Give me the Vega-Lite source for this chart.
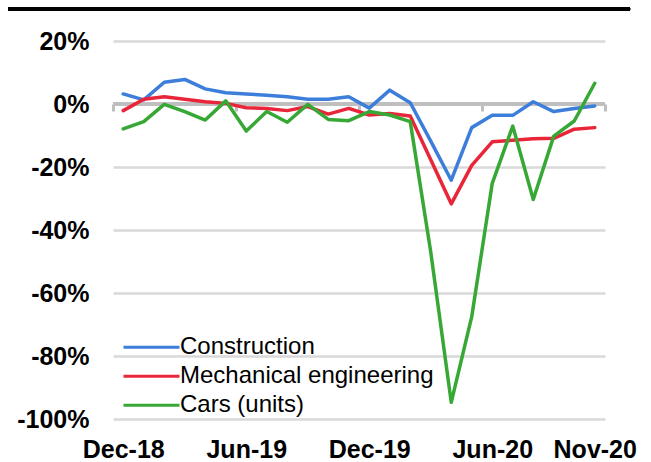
{
  "$schema": "https://vega.github.io/schema/vega-lite/v6.json",
  "autosize": "none",
  "width": 492,
  "height": 378,
  "padding": {"left": 113, "top": 41, "right": 46, "bottom": 43},
  "background": "white",
  "config": {
    "font": "Liberation Sans",
    "view": {"stroke": null}
  },
  "data": {
    "values": [
      {"month": "Dec-18", "series": "Construction", "value": 3.2},
      {"month": "Jan-19", "series": "Construction", "value": 1.3},
      {"month": "Feb-19", "series": "Construction", "value": 6.9},
      {"month": "Mar-19", "series": "Construction", "value": 7.8},
      {"month": "Apr-19", "series": "Construction", "value": 4.8},
      {"month": "May-19", "series": "Construction", "value": 3.6},
      {"month": "Jun-19", "series": "Construction", "value": 3.2},
      {"month": "Jul-19", "series": "Construction", "value": 2.8},
      {"month": "Aug-19", "series": "Construction", "value": 2.3},
      {"month": "Sep-19", "series": "Construction", "value": 1.5},
      {"month": "Oct-19", "series": "Construction", "value": 1.5},
      {"month": "Nov-19", "series": "Construction", "value": 2.3},
      {"month": "Dec-19", "series": "Construction", "value": -1.3},
      {"month": "Jan-20", "series": "Construction", "value": 4.4},
      {"month": "Feb-20", "series": "Construction", "value": 0.4},
      {"month": "Mar-20", "series": "Construction", "value": -11.8},
      {"month": "Apr-20", "series": "Construction", "value": -24.2},
      {"month": "May-20", "series": "Construction", "value": -7.5},
      {"month": "Jun-20", "series": "Construction", "value": -3.6},
      {"month": "Jul-20", "series": "Construction", "value": -3.6},
      {"month": "Aug-20", "series": "Construction", "value": 0.7},
      {"month": "Sep-20", "series": "Construction", "value": -2.4},
      {"month": "Oct-20", "series": "Construction", "value": -1.4},
      {"month": "Nov-20", "series": "Construction", "value": -0.6},
      {"month": "Dec-18", "series": "Mechanical engineering", "value": -2.1},
      {"month": "Jan-19", "series": "Mechanical engineering", "value": 1.5},
      {"month": "Feb-19", "series": "Mechanical engineering", "value": 2.3},
      {"month": "Mar-19", "series": "Mechanical engineering", "value": 1.5},
      {"month": "Apr-19", "series": "Mechanical engineering", "value": 0.7},
      {"month": "May-19", "series": "Mechanical engineering", "value": 0.2},
      {"month": "Jun-19", "series": "Mechanical engineering", "value": -1.2},
      {"month": "Jul-19", "series": "Mechanical engineering", "value": -1.4},
      {"month": "Aug-19", "series": "Mechanical engineering", "value": -2.1},
      {"month": "Sep-19", "series": "Mechanical engineering", "value": -0.8},
      {"month": "Oct-19", "series": "Mechanical engineering", "value": -3.2},
      {"month": "Nov-19", "series": "Mechanical engineering", "value": -1.4},
      {"month": "Dec-19", "series": "Mechanical engineering", "value": -3.5},
      {"month": "Jan-20", "series": "Mechanical engineering", "value": -3.0},
      {"month": "Feb-20", "series": "Mechanical engineering", "value": -3.8},
      {"month": "Mar-20", "series": "Mechanical engineering", "value": -17.7},
      {"month": "Apr-20", "series": "Mechanical engineering", "value": -31.7},
      {"month": "May-20", "series": "Mechanical engineering", "value": -19.5},
      {"month": "Jun-20", "series": "Mechanical engineering", "value": -12.0},
      {"month": "Jul-20", "series": "Mechanical engineering", "value": -11.5},
      {"month": "Aug-20", "series": "Mechanical engineering", "value": -11.0},
      {"month": "Sep-20", "series": "Mechanical engineering", "value": -10.9},
      {"month": "Oct-20", "series": "Mechanical engineering", "value": -8.0},
      {"month": "Nov-20", "series": "Mechanical engineering", "value": -7.5},
      {"month": "Dec-18", "series": "Cars (units)", "value": -7.9},
      {"month": "Jan-19", "series": "Cars (units)", "value": -5.6},
      {"month": "Feb-19", "series": "Cars (units)", "value": -0.1},
      {"month": "Mar-19", "series": "Cars (units)", "value": -2.4},
      {"month": "Apr-19", "series": "Cars (units)", "value": -5.1},
      {"month": "May-19", "series": "Cars (units)", "value": 1.0},
      {"month": "Jun-19", "series": "Cars (units)", "value": -8.6},
      {"month": "Jul-19", "series": "Cars (units)", "value": -2.4},
      {"month": "Aug-19", "series": "Cars (units)", "value": -5.8},
      {"month": "Sep-19", "series": "Cars (units)", "value": -0.1},
      {"month": "Oct-19", "series": "Cars (units)", "value": -4.9},
      {"month": "Nov-19", "series": "Cars (units)", "value": -5.3},
      {"month": "Dec-19", "series": "Cars (units)", "value": -2.4},
      {"month": "Jan-20", "series": "Cars (units)", "value": -3.5},
      {"month": "Feb-20", "series": "Cars (units)", "value": -5.6},
      {"month": "Mar-20", "series": "Cars (units)", "value": -47.0},
      {"month": "Apr-20", "series": "Cars (units)", "value": -94.7},
      {"month": "May-20", "series": "Cars (units)", "value": -67.5},
      {"month": "Jun-20", "series": "Cars (units)", "value": -25.2},
      {"month": "Jul-20", "series": "Cars (units)", "value": -7.0},
      {"month": "Aug-20", "series": "Cars (units)", "value": -30.3},
      {"month": "Sep-20", "series": "Cars (units)", "value": -10.2},
      {"month": "Oct-20", "series": "Cars (units)", "value": -5.4},
      {"month": "Nov-20", "series": "Cars (units)", "value": 6.6}
    ]
  },
  "resolve": {"scale": {"x": "independent"}, "axis": {"x": "independent"}},
  "layer": [
    {
      "mark": {"type": "rule", "color": "#bfbfbf", "strokeWidth": 3},
      "encoding": {
        "x": {"datum": 0, "type": "quantitative",
          "scale": {"domain": [0, 24], "nice": false, "zero": false},
          "axis": {"orient": "top", "offset": -63, "values": [0, 6, 12, 18, 24], "labels": false, "domain": false, "grid": false, "ticks": true, "tickColor": "#bfbfbf", "tickWidth": 3, "tickSize": -7, "title": null}},
        "x2": {"datum": 24},
        "y": {"datum": 0, "type": "quantitative"}
      }
    },
    {
      "mark": {"type": "rule", "color": "black", "strokeWidth": 3},
      "encoding": {
        "x": {"datum": -5.12, "type": "quantitative",
          "scale": {"domain": [0, 24], "nice": false, "zero": false},
          "axis": null},
        "x2": {"datum": 25.22},
        "y": {"datum": 30.2, "type": "quantitative"}
      }
    },
    {
      "mark": {"type": "line", "strokeWidth": 3.5, "strokeJoin": "round", "strokeCap": "round"},
      "encoding": {
        "x": {"field": "month", "type": "ordinal", "sort": null,
          "scale": {"type": "point", "padding": 0.5},
          "axis": {"orient": "bottom", "values": ["Dec-18", "Jun-19", "Dec-19", "Jun-20", "Nov-20"], "labelAngle": 0, "labelFontSize": 25, "labelFontWeight": "bold", "labelColor": "black", "labelPadding": 18, "ticks": false, "tickSize": 0, "domain": false, "grid": false, "title": null, "labelBaseline": "top", "labelOverlap": false}},
        "y": {"field": "value", "type": "quantitative",
          "scale": {"domain": [-100, 20], "nice": false, "zero": false},
          "axis": {"values": [-100, -80, -60, -40, -20, 0, 20], "labelExpr": "datum.value + '%'", "labelFontSize": 25, "labelFontWeight": "bold", "labelColor": "black", "labelPadding": 24, "ticks": false, "tickSize": 0, "domain": false, "grid": true, "gridColor": "#d9d9d9", "gridWidth": 2.5, "title": null}},
        "color": {"field": "series", "type": "nominal",
          "scale": {"domain": ["Construction", "Mechanical engineering", "Cars (units)"], "range": ["#3d7edb", "#e9253a", "#37a835"]},
          "legend": {"title": null, "orient": "none", "legendX": 9, "legendY": 292, "padding": 0, "symbolType": "stroke", "symbolSize": 3136, "symbolStrokeWidth": 3, "labelFontSize": 24, "labelColor": "black", "labelOffset": -1, "labelLimit": 500, "clipHeight": 28.5, "rowPadding": 0}}
      }
    }
  ]
}
